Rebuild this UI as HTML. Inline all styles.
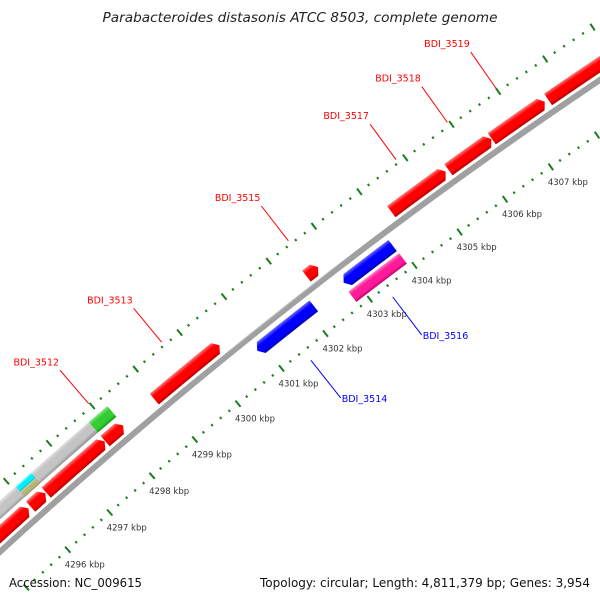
<!DOCTYPE html>
<html><head><meta charset="utf-8"><style>
html,body{margin:0;padding:0;background:#fff;overflow:hidden;}
svg{display:block;}
text{font-family:"DejaVu Sans","Liberation Sans",sans-serif;}
</style></head><body>
<svg id="chart" width="600" height="600" viewBox="0 0 600 600" xmlns="http://www.w3.org/2000/svg">
<rect width="600" height="600" fill="#fff"/>
<defs id="defs"></defs>
<g id="ticks"></g>
<g id="feats"></g>
<g id="labels"></g>
<text x="300" y="22" text-anchor="middle" font-size="13" font-style="italic" fill="#222" textLength="395" lengthAdjust="spacingAndGlyphs">Parabacteroides distasonis ATCC 8503, complete genome</text>
<text x="9" y="587" font-size="12" fill="#111" textLength="133" lengthAdjust="spacingAndGlyphs">Accession: NC_009615</text>
<text x="590" y="587" text-anchor="end" font-size="12" fill="#111" textLength="330" lengthAdjust="spacingAndGlyphs">Topology: circular; Length: 4,811,379 bp; Genes: 3,954</text>
</svg>
<script>
// feature data (kbp)
const featNames = ["red-a","BDI_3512b","red-c","BDI_3512","BDI_3513","BDI_3515","BDI_3517","BDI_3518","BDI_3519","red-j","gray-slot","cyan-feature","khaki-feature","green-feature","BDI_3514","blue-b","BDI_3516"];
const featStart = [4294.0,4296.02,4296.39,4297.77,4298.91,4302.36,4304.24,4305.49,4306.43,4307.64,4294.0,4296.06,4296.06,4297.77,4300.86,4302.81,4302.78];
const featEnd   = [4295.97,4296.37,4297.76,4298.19,4300.40,4302.62,4305.43,4306.42,4307.57,4310.0,4297.77,4296.42,4296.42,4298.20,4302.14,4303.90,4303.91];
const featRow   = ["fwd","fwd","fwd","fwd","fwd","fwd","fwd","fwd","fwd","fwd","outer","outerHi","outerLo","outer","rev","rev","rev2"];
const featArrow = [1,1,1,1,1,1,1,1,1,1,0,0,0,0,-1,-1,0];
const featColor = ["red","red","red","red","red","red","red","red","red","red","gray","cyan","khaki","green","blue","blue","pink"];
const tickMajors = [4296,4297,4298,4299,4300,4301,4302,4303,4304,4305,4306,4307];
const labelText = ["BDI_3512","BDI_3513","BDI_3515","BDI_3517","BDI_3518","BDI_3519","BDI_3514","BDI_3516"];
const labelPos  = [4297.98,4299.65,4302.49,4304.85,4305.96,4307.0,4301.5,4303.35];
const labelStrand = [1,1,1,1,1,1,-1,-1];

const rows = {fwd:[50,64],outer:[68,82],outerHi:[75,82],outerLo:[68,75],rev:[22,36],rev2:[6,19]};
const colors = {red:["#ff7a7a","#ff0000","#b80000"],gray:["#e4e4e4","#c4c4c4","#9a9a9a"],cyan:["#9ffcff","#00f0ff","#00b8c8"],khaki:["#d8d4a0","#b9b37c","#8f8a5a"],green:["#7ae87a","#33cc33","#1f9a1f"],blue:["#6a6aff","#0000ff","#0000a8"],pink:["#ff7ac0","#ff1a99","#c00070"]};

const NS="http://www.w3.org/2000/svg";
const CX=3439, CY=4307, R0=5048;
function P(p,r){const a=(-131.9+0.6364*(p-4296))*Math.PI/180;const R=R0+r;return [CX+R*Math.cos(a),CY+R*Math.sin(a)];}
function mk(tag,attrs,parent){const e=document.createElementNS(NS,tag);for(const k in attrs)e.setAttribute(k,attrs[k]);parent.appendChild(e);return e;}
const defs=document.getElementById('defs');
function grad(id,p,r1,r2,c){
  const o=P(p,r2), i=P(p,r1);
  const g=mk('linearGradient',{id:id,gradientUnits:'userSpaceOnUse',x1:o[0],y1:o[1],x2:i[0],y2:i[1]},defs);
  mk('stop',{offset:'0',"stop-color":c[0]},g);
  mk('stop',{offset:'0.3',"stop-color":c[1]},g);
  mk('stop',{offset:'0.75',"stop-color":c[1]},g);
  mk('stop',{offset:'1',"stop-color":c[2]},g);
}
function shape(p1,p2,r1,r2,arrow){
  const h=0.09; let a=p1,b=p2;
  if(arrow===1&&p2-p1>h*1.5)b=p2-h;
  if(arrow===-1&&p2-p1>h*1.5)a=p1+h;
  const n=Math.max(2,Math.ceil((b-a)*4));const pts=[];
  if(arrow===-1)pts.push(P(p1,(r1+r2)/2));
  for(let k=0;k<=n;k++)pts.push(P(a+(b-a)*k/n,r2));
  if(arrow===1)pts.push(P(p2,(r1+r2)/2));
  for(let k=n;k>=0;k--)pts.push(P(a+(b-a)*k/n,r1));
  return pts.map(q=>q[0].toFixed(2)+','+q[1].toFixed(2)).join(' ');
}
// backbone
grad('gbb',4301.5,41,47,["#d0d0d0","#a0a0a0","#a0a0a0","#606060"]);
const bb=mk('polygon',{points:shape(4293,4311,41,47,0),fill:'url(#gbb)'},document.getElementById('feats'));



// features
const fg=document.getElementById('feats');
for(let i=0;i<featStart.length;i++){
  const rr=rows[featRow[i]];const mid=(featStart[i]+featEnd[i])/2;
  grad('gf'+i,mid,rr[0],rr[1],colors[featColor[i]]);
  const el=mk('polygon',{points:shape(featStart[i],featEnd[i],rr[0],rr[1],featArrow[i]),fill:'url(#gf'+i+')'},fg);
  
  
}

// ticks
const tg=document.getElementById('ticks');
for(let s=0;s<=14*5;s++){
  const p=4295+s*0.2;const major=(s%5===0);
  [0,92].forEach(r=>{
    const len=major?4:1.2;
    const a=P(p,r-len),b=P(p,r+len);
    const t=mk('line',{x1:a[0],y1:a[1],x2:b[0],y2:b[1],stroke:'#1b7d1b','stroke-width':2},tg);
    
    
  });
}
tickMajors.forEach(k=>{
  const q=P(k,0);
  const t=mk('text',{x:q[0]-3,y:q[1]+18,'font-size':'8.5',fill:'#333'},tg);
  t.textContent=k+' kbp';
  
  
});

// labels
const lg=document.getElementById('labels');
for(let i=0;i<labelText.length;i++){
  const fwd=labelStrand[i]===1;const col=fwd?'#ff0000':'#0000ff';
  const a=fwd?P(labelPos[i],96):P(labelPos[i],-12);
  const b=fwd?P(labelPos[i],140):P(labelPos[i],-60);
  const ln=mk('line',{x1:a[0],y1:a[1],x2:b[0],y2:b[1],stroke:col,'stroke-width':1},lg);
  
  
  const t=mk('text',fwd?{x:b[0]-1,y:b[1]-5,'text-anchor':'end','font-size':'9.5',fill:col}:{x:b[0]+1,y:b[1]+4,'font-size':'9.5',fill:col},lg);
  t.textContent=labelText[i];
  
  
}
</script>
</body></html>
